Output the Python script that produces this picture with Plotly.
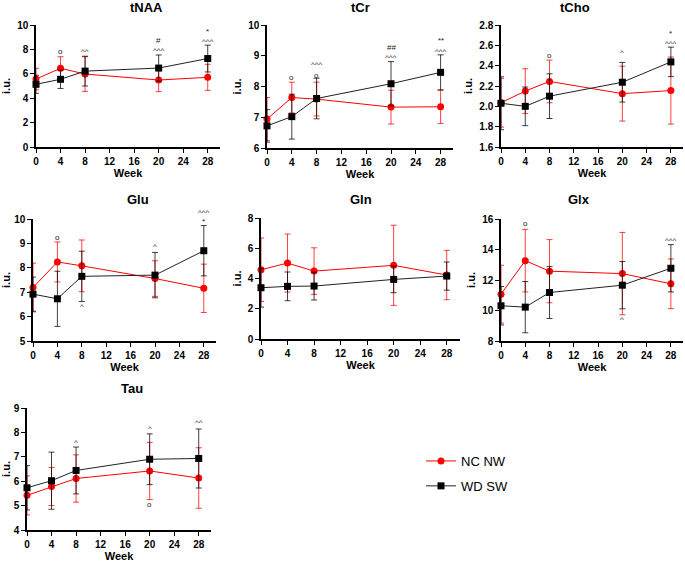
import plotly.graph_objects as go

# semanas do estudo
weeks = [0, 4, 8, 20, 28]

# tNAA
tnaa_nc = [5.57, 6.45, 5.98, 5.49, 5.71]
tnaa_nc_sd = [0.88, 0.95, 1.42, 0.95, 1.07]
tnaa_wd = [5.14, 5.55, 6.22, 6.47, 7.25]
tnaa_wd_sd = [0.74, 0.75, 1.22, 1.07, 1.1]

# tCr
tcr_nc = [6.94, 7.64, 7.59, 7.33, 7.34]
tcr_nc_sd = [0.7, 0.5, 0.55, 0.55, 0.54]
tcr_wd = [6.72, 7.02, 7.61, 8.09, 8.46]
tcr_wd_sd = [0.53, 0.73, 0.66, 0.72, 0.57]

# tCho
tcho_nc = [2.035, 2.15, 2.245, 2.125, 2.155]
tcho_nc_sd = [0.24, 0.22, 0.21, 0.27, 0.33]
tcho_wd = [2.03, 2.0, 2.1, 2.237, 2.437]
tcho_wd_sd = [0.26, 0.19, 0.22, 0.195, 0.145]

# Glu
glu_nc = [7.19, 8.24, 8.08, 7.56, 7.16]
glu_nc_sd = [1.0, 0.82, 1.06, 0.73, 0.99]
glu_wd = [6.92, 6.73, 7.65, 7.7, 8.7]
glu_wd_sd = [0.7, 1.13, 1.03, 0.93, 1.03]

# Gln
gln_nc = [4.58, 5.02, 4.49, 4.87, 4.23]
gln_nc_sd = [2.1, 1.92, 1.54, 2.65, 1.63]
gln_wd = [3.39, 3.48, 3.5, 3.94, 4.16]
gln_wd_sd = [1.28, 0.95, 0.92, 0.88, 0.93]

# Glx
glx_nc = [11.07, 13.27, 12.58, 12.42, 11.75]
glx_nc_sd = [1.9, 2.05, 2.07, 2.7, 1.63]
glx_wd = [10.31, 10.22, 11.18, 11.66, 12.77]
glx_wd_sd = [1.26, 1.68, 1.7, 1.55, 1.55]

# Tau
tau_nc = [5.42, 5.78, 6.11, 6.42, 6.13]
tau_nc_sd = [0.8, 0.78, 0.97, 1.17, 1.24]
tau_wd = [5.73, 6.02, 6.44, 6.9, 6.93]
tau_wd_sd = [0.91, 1.17, 0.96, 1.04, 1.21]

# marcas de significancia (semana, valor, texto)
tnaa_marks = [(4, 7.85, "o"), (8, 7.85, "^^"), (20, 8.75, "#"), (20, 7.95, "^^^"), (28, 9.45, "*"), (28, 8.65, "^^^")]
tcr_marks = [(4, 8.3, "o"), (8, 8.37, "o"), (8, 8.7, "^^^"), (20, 9.28, "##"), (20, 8.95, "^^^"), (28, 9.48, "**"), (28, 9.15, "^^^")]
tcho_marks = [(8, 2.5, "o"), (20, 2.53, "^"), (28, 2.72, "*"), (28, 2.62, "^^^")]
glu_marks = [(4, 9.25, "o"), (8, 6.42, "^"), (20, 8.87, "^"), (28, 10.25, "^^^"), (28, 9.88, "*")]
gln_marks = []
glx_marks = [(4, 15.7, "o"), (20, 9.42, "^"), (28, 14.6, "^^^")]
tau_marks = [(8, 7.58, "^"), (20, 8.17, "^"), (20, 5.06, "o"), (28, 8.39, "^^")]

W, H = 685, 562
FONT = "Liberation Sans, Arial, sans-serif"

# (titulo, nc, nc_sd, wd, wd_sd, marks, [x0, x1, ytop, ybottom] em px, yrange, dtick, y do titulo)
paineis = [
    ("tNAA", tnaa_nc, tnaa_nc_sd, tnaa_wd, tnaa_wd_sd, tnaa_marks, [36, 220, 25, 147], [0, 10], 2, 7),
    ("tCr", tcr_nc, tcr_nc_sd, tcr_wd, tcr_wd_sd, tcr_marks, [267, 453, 25, 148], [6, 10], 1, 7),
    ("tCho", tcho_nc, tcho_nc_sd, tcho_wd, tcho_wd_sd, tcho_marks, [501, 683, 25, 147], [1.6, 2.8], 0.2, 7),
    ("Glu", glu_nc, glu_nc_sd, glu_wd, glu_wd_sd, glu_marks, [33, 216, 219, 341], [5, 10], 1, 199),
    ("Gln", gln_nc, gln_nc_sd, gln_wd, gln_wd_sd, gln_marks, [261, 460, 218, 339], [0, 8], 2, 199),
    ("Glx", glx_nc, glx_nc_sd, glx_wd, glx_wd_sd, glx_marks, [501, 683, 219, 341], [8, 16], 2, 199),
    ("Tau", tau_nc, tau_nc_sd, tau_wd, tau_wd_sd, tau_marks, [27, 211, 408, 530], [4, 9], 1, 388),
]

fig = go.Figure()
annots = []
layout = {}

for i, (nome, nc, nc_sd, wd, wd_sd, marks, px_box, yr, dt, ytit) in enumerate(paineis):
    n = i + 1
    xa = "x" if n == 1 else "x%d" % n
    ya = "y" if n == 1 else "y%d" % n
    x0, x1, yt, yb = px_box
    ydom = [1 - yb / H, 1 - yt / H]

    fig.add_trace(go.Scatter(
        x=weeks, y=nc, mode="lines+markers", name="NC NW", legendgroup="nc",
        showlegend=(n == 1), xaxis=xa, yaxis=ya, cliponaxis=False,
        line=dict(color="#ff0000", width=1),
        marker=dict(symbol="circle", size=7, color="#ff0000"),
        error_y=dict(type="data", array=nc_sd, color="rgba(255,0,0,0.75)", thickness=1, width=3)))
    fig.add_trace(go.Scatter(
        x=weeks, y=wd, mode="lines+markers", name="WD SW", legendgroup="wd",
        showlegend=(n == 1), xaxis=xa, yaxis=ya, cliponaxis=False,
        line=dict(color="#222222", width=1),
        marker=dict(symbol="square", size=7, color="#000000"),
        error_y=dict(type="data", array=wd_sd, color="rgba(0,0,0,0.75)", thickness=1, width=3)))

    eixo = dict(showline=True, linecolor="black", linewidth=1.5, ticks="outside",
                ticklen=4, tickcolor="black", showgrid=False, zeroline=False, automargin=False,
                tickfont=dict(family=FONT, size=10, color="black", weight="bold"))
    layout["xaxis" if n == 1 else "xaxis%d" % n] = dict(
        eixo, domain=[x0 / W, x1 / W], range=[0, 30], tickvals=[0, 4, 8, 12, 16, 20, 24, 28],
        anchor=ya, title=dict(text="<b>Week</b>", font=dict(family=FONT, size=11, color="black"), standoff=4))
    layout["yaxis" if n == 1 else "yaxis%d" % n] = dict(
        eixo, domain=ydom, range=yr, dtick=dt, tick0=yr[0],
        tickformat=".1f" if dt < 1 else "d",
        anchor=xa, title=dict(text="<b>i.u.</b>", font=dict(family=FONT, size=11, color="black"), standoff=4))

    # titulo do painel
    annots.append(dict(text="<b>%s</b>" % nome, x=(x0 + x1) / 2 / W, y=1 - ytit / H,
                       xref="paper", yref="paper", yanchor="middle", showarrow=False,
                       font=dict(family=FONT, size=13, color="black")))
    # marcas: y convertido para paper pq o plotly esconde anotacao fora do range
    for wk, val, txt in marks:
        yp = ydom[0] + (val - yr[0]) / (yr[1] - yr[0]) * (ydom[1] - ydom[0])
        annots.append(dict(text=txt, x=wk, y=yp, xref=xa, yref="paper", yanchor="middle",
                           showarrow=False, borderpad=0,
                           font=dict(family=FONT, size=8, color="#222222")))

fig.update_layout(**layout)
fig.update_layout(
    width=W, height=H, margin=dict(l=0, r=0, t=0, b=0),
    plot_bgcolor="white", paper_bgcolor="white",
    annotations=annots,
    legend=dict(x=421 / W, y=1 - 446 / H, xanchor="left", yanchor="top",
                font=dict(family=FONT, size=13, color="black"),
                tracegroupgap=5, bgcolor="rgba(0,0,0,0)"),
)

# tira a margem padrao do body para a figura ocupar a janela toda
fig.write_html("out.html", config={"displayModeBar": False},
               post_script="document.body.style.margin='0';")
